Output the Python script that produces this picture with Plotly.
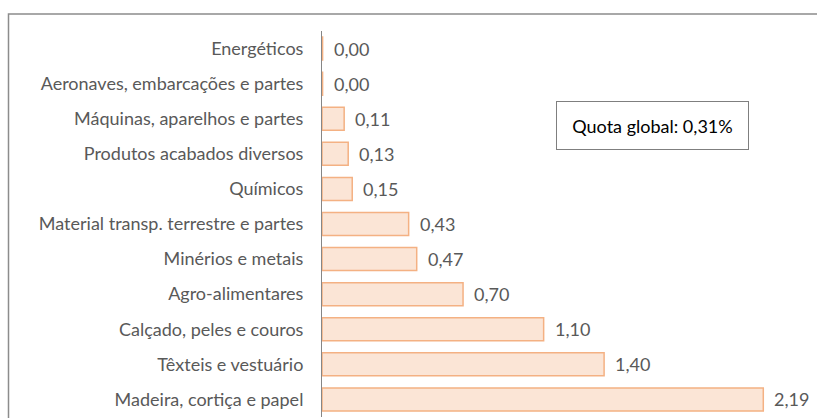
import plotly.graph_objects as go

categories = [
    "Energéticos",
    "Aeronaves, embarcações e partes",
    "Máquinas, aparelhos e partes",
    "Produtos acabados diversos",
    "Químicos",
    "Material transp. terrestre e partes",
    "Minérios e metais",
    "Agro-alimentares",
    "Calçado, peles e couros",
    "Têxteis e vestuário",
    "Madeira, cortiça e papel",
]
values = [0.003, 0.003, 0.11, 0.13, 0.15, 0.43, 0.47, 0.70, 1.10, 1.40, 2.19]
global_share = "Quota global: 0,31%"

W, H = 817, 418
L, R, T, B = 322, 0, 31, 1
pw, ph = W - L - R, H - T - B
xmax = pw / 201.5

FONT = "Lato, Carlito, Calibri, sans-serif"
TXT = "#595959"
FS = 18

fig = go.Figure()
fig.add_trace(go.Bar(
    x=values, y=categories, orientation="h",
    marker=dict(color="#FBE5D6", line=dict(color="#F4B183", width=1.5)),
    hoverinfo="skip",
))

labels = [f"{v:.2f}".replace(".", ",") for v in values]
for c, v, t in zip(categories, values, labels):
    fig.add_annotation(x=v, y=c, text=t, showarrow=False, xanchor="left",
                       xshift=9, font=dict(family=FONT, size=FS, color=TXT))

# global share box
fig.add_annotation(xref="paper", yref="paper",
                   x=(652.5 - L) / pw, y=(H - B - 125.5) / ph,
                   xanchor="center", yanchor="middle",
                   text=global_share, showarrow=False,
                   font=dict(family=FONT, size=FS, color="#000000"),
                   bordercolor="#7f7f7f", borderwidth=1, borderpad=0,
                   bgcolor="white", width=191, height=47)

# outer chart frame
fig.add_shape(type="rect", xref="paper", yref="paper",
              x0=(8.5 - L) / pw, x1=1.02, y0=-0.02, y1=(H - B - 14) / ph,
              line=dict(color="#8c8c8c", width=1.5), layer="below")

fig.update_layout(
    width=W, height=H,
    margin=dict(l=L, r=R, t=T, b=B, autoexpand=False),
    paper_bgcolor="white", plot_bgcolor="white",
    bargap=0.345, showlegend=False,
    xaxis=dict(range=[0, xmax], visible=False, fixedrange=True),
    yaxis=dict(autorange="reversed", showgrid=False, showline=True,
               linecolor="#868686", linewidth=1, ticks="", fixedrange=True,
               ticklabelstandoff=14,
               tickfont=dict(family=FONT, size=FS, color=TXT)),
)

fig.write_html("out.html", config={"displayModeBar": False},
               post_script="document.body.style.margin='0';document.body.style.overflow='hidden';")
